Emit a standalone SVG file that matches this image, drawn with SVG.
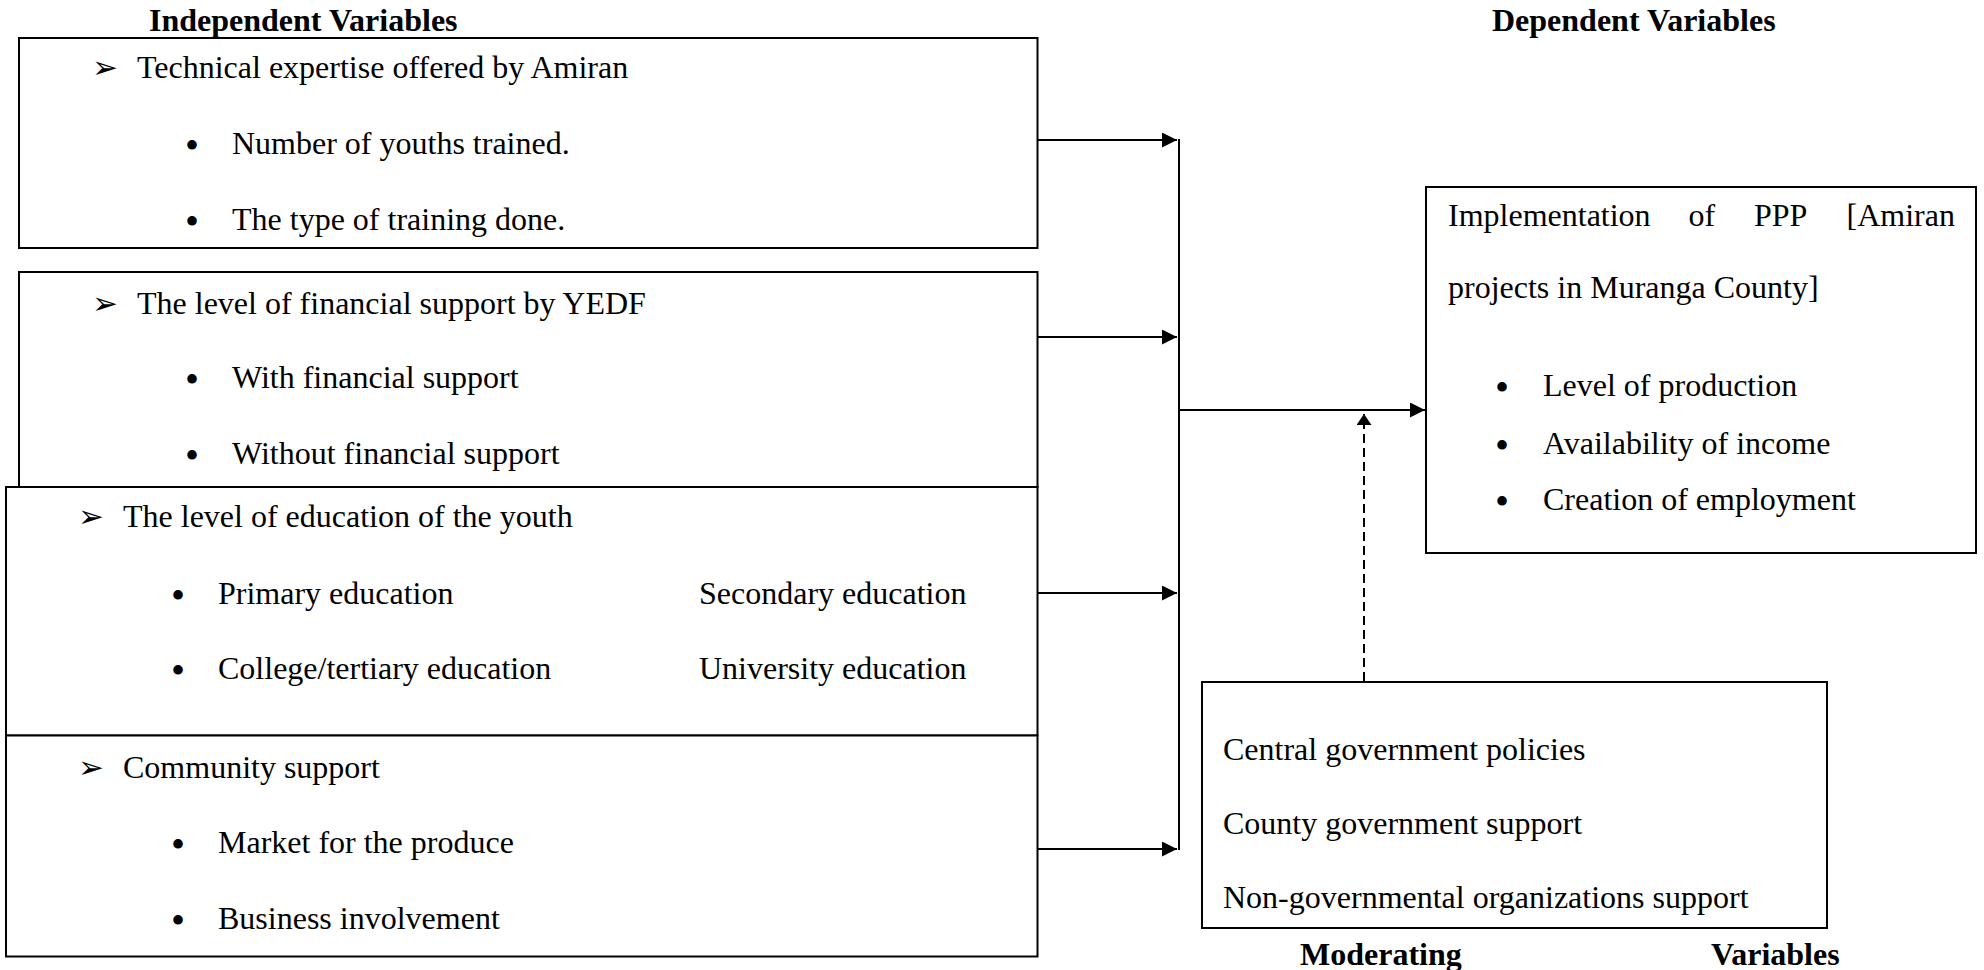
<svg xmlns="http://www.w3.org/2000/svg" width="1984" height="970" viewBox="0 0 1984 970">
<style>
.t{font-family:"Liberation Serif","Times New Roman",serif;font-size:32px;fill:#000}
.h{font-weight:bold}
.ar{font-family:"DejaVu Sans",sans-serif;font-size:31px;fill:#000}
.bu{font-family:"Liberation Serif","Times New Roman",serif;font-size:40px;fill:#000;text-anchor:middle}
.box{fill:#fff;stroke:#000;stroke-width:2}
.ln{fill:none;stroke:#000;stroke-width:2}
.dash{stroke-dasharray:9 5}
</style>
<defs>
<marker id="ah" markerUnits="userSpaceOnUse" markerWidth="16" markerHeight="16" refX="15" refY="7.5" orient="auto">
<path d="M0,0 L15,7.5 L0,15 Z" fill="#000"/>
</marker>
<marker id="ahd" markerUnits="userSpaceOnUse" markerWidth="16" markerHeight="16" refX="11" refY="7.5" orient="auto">
<path d="M0,0 L11,7.5 L0,15 Z" fill="#000"/>
</marker>
</defs>

<text class="t h" x="149" y="31">Independent Variables</text>
<text class="t h" x="1492" y="31">Dependent Variables</text>

<g id="box1">
<rect class="box" x="19" y="38" width="1018.5" height="210"/>
<text class="ar" x="92" y="78">➢</text>
<text class="t" x="137" y="78">Technical expertise offered by Amiran</text>
<text class="bu" x="192" y="159">•</text>
<text class="t" x="232" y="154">Number of youths trained.</text>
<text class="bu" x="192" y="235">•</text>
<text class="t" x="232" y="230">The type of training done.</text>
</g>

<g id="box2">
<rect class="box" x="19" y="272" width="1018.5" height="215"/>
<text class="ar" x="92" y="314">➢</text>
<text class="t" x="137" y="314">The level of financial support by YEDF</text>
<text class="bu" x="192" y="393">•</text>
<text class="t" x="232" y="388">With financial support</text>
<text class="bu" x="192" y="469">•</text>
<text class="t" x="232" y="464">Without financial support</text>
</g>

<g id="box3">
<rect class="box" x="6" y="487" width="1031.5" height="248.5"/>
<text class="ar" x="78" y="527">➢</text>
<text class="t" x="123" y="527">The level of education of the youth</text>
<text class="bu" x="178" y="609">•</text>
<text class="t" x="218" y="604">Primary education</text>
<text class="t" x="699" y="604">Secondary education</text>
<text class="bu" x="178" y="684">•</text>
<text class="t" x="218" y="679">College/tertiary education</text>
<text class="t" x="699" y="679">University education</text>
</g>

<g id="box4">
<rect class="box" x="6" y="735.5" width="1031.5" height="221"/>
<text class="ar" x="78" y="778">➢</text>
<text class="t" x="123" y="778">Community support</text>
<text class="bu" x="178" y="858">•</text>
<text class="t" x="218" y="853">Market for the produce</text>
<text class="bu" x="178" y="934">•</text>
<text class="t" x="218" y="929">Business involvement</text>
</g>

<g id="dependent">
<rect class="box" x="1426" y="187" width="550" height="366"/>
<text class="t" y="226"><tspan x="1448">Implementation</tspan><tspan x="1688.5">of</tspan><tspan x="1754">PPP</tspan><tspan x="1846.5">[Amiran</tspan></text>
<text class="t" x="1448" y="298">projects in Muranga County]</text>
<text class="bu" x="1502" y="401">•</text>
<text class="t" x="1543" y="396">Level of production</text>
<text class="bu" x="1502" y="459">•</text>
<text class="t" x="1543" y="454">Availability of income</text>
<text class="bu" x="1502" y="515">•</text>
<text class="t" x="1543" y="510">Creation of employment</text>
</g>

<g id="moderating">
<rect class="box" x="1202" y="682" width="625" height="246"/>
<text class="t" x="1223" y="760">Central government policies</text>
<text class="t" x="1223" y="834">County government support</text>
<text class="t" x="1223" y="908">Non-governmental organizations support</text>
<text class="t h" x="1300" y="965">Moderating</text>
<text class="t h" x="1711" y="965">Variables</text>
</g>

<g id="connectors">
<path class="ln" d="M1037.5,140 H1177" marker-end="url(#ah)"/>
<path class="ln" d="M1037.5,337 H1177" marker-end="url(#ah)"/>
<path class="ln" d="M1037.5,593 H1177" marker-end="url(#ah)"/>
<path class="ln" d="M1037.5,849 H1177" marker-end="url(#ah)"/>
<path class="ln" d="M1179,139 V850"/>
<path class="ln" d="M1179,410 H1425" marker-end="url(#ah)"/>
<path class="ln dash" d="M1364,681 V414" marker-end="url(#ahd)"/>
</g>
</svg>
